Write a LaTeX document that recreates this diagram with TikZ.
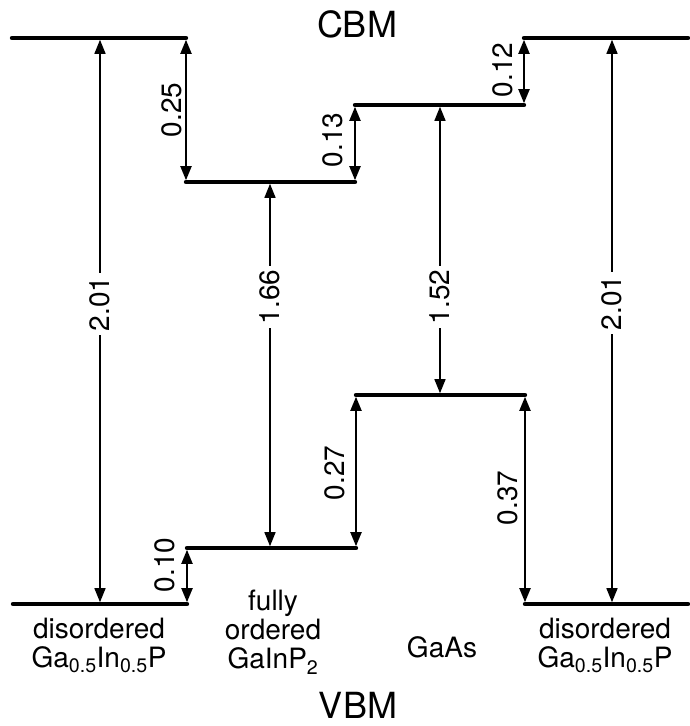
\documentclass[tikz,border=0pt]{standalone}
\usepackage{fontspec}
\setmainfont{TeX Gyre Heros}
\usetikzlibrary{arrows.meta,positioning,calc}
\tikzset{
  bandedge/.style={line width=4.4pt, line cap=round},
  % offsets between neighbouring layers and gaps of each layer
  stepdim/.style={{Triangle[length=14pt,width=11pt]}-{Triangle[length=14pt,width=11pt]},
                line width=2pt, shorten <=1.8pt, shorten >=1.8pt},
  gapdim/.style={{Triangle[length=14pt,width=11pt]}-{Triangle[length=14pt,width=11pt]},
                line width=1.4pt, shorten <=1.8pt, shorten >=1.8pt},
  steplabel/.style={rotate=90, anchor=south, inner sep=0pt, font=\fontsize{28}{29}\selectfont},
  gaplabel/.style={rotate=90, fill=white, inner xsep=4pt, inner ysep=1pt, font=\fontsize{28}{29}\selectfont},
  matlabel/.style={align=center, inner sep=0pt, font=\fontsize{28}{29}\selectfont},
  edgelabel/.style={anchor=base, inner sep=0pt, font=\fontsize{36}{40}\selectfont},
}

\begin{document}
\begin{tikzpicture}[x=1pt, y=-1pt]
  \useasboundingbox (0,0) rectangle (689,726);

  % --- conduction band edges ------------------------------------------------
  \coordinate (cbLw) at (12,38);   \coordinate (cbLe) at (186,38);
  \coordinate (cbOw) at (186,182); \coordinate (cbOe) at (355,182);
  \coordinate (cbGw) at (355,105); \coordinate (cbGe) at (524,105);
  \coordinate (cbRw) at (524,38);  \coordinate (cbRe) at (688,38);

  % --- valence band edges ---------------------------------------------------
  \coordinate (vbLw) at (13,604);  \coordinate (vbLe) at (187,604);
  \coordinate (vbOw) at (187,548); \coordinate (vbOe) at (356,548);
  \coordinate (vbGw) at (356,395); \coordinate (vbGe) at (525,395);
  \coordinate (vbRw) at (525,604); \coordinate (vbRe) at (688,604);

  \draw[bandedge] (cbLw) -- (cbLe);
  \draw[bandedge] (cbOw) -- (cbOe);
  \draw[bandedge] (cbGw) -- (cbGe);
  \draw[bandedge] (cbRw) -- (cbRe);
  \draw[bandedge] (vbLw) -- (vbLe);
  \draw[bandedge] (vbOw) -- (vbOe);
  \draw[bandedge] (vbGw) -- (vbGe);
  \draw[bandedge] (vbRw) -- (vbRe);

  % --- band offsets ---------------------------------------------------------
  \draw[stepdim] (cbLe) -- (cbOw);
  \draw[stepdim] (cbOe) -- (cbGw);
  \draw[stepdim] (cbGe) -- (cbRw);
  \draw[stepdim] (vbLe) -- (vbOw);
  \draw[stepdim] (vbOe) -- (vbGw);
  \draw[stepdim] (vbGe) -- (vbRw);

  \node[steplabel] (off025) at (182,110) {0.25};
  \node[steplabel] (off013) at (343,140) {0.13};
  \node[steplabel] (off012) at (513,70)  {0.12};
  \node[steplabel] (off010) at (175,565) {0.10};
  \node[steplabel] (off027) at (345,473) {0.27};
  \node[steplabel] (off037) at (518,498) {0.37};

  % --- band gaps ------------------------------------------------------------
  \coordinate (colL) at (100,0);
  \coordinate (colO) at (270,0);
  \coordinate (colG) at (440,0);
  \coordinate (colR) at (612,0);

  \draw[gapdim] (colL |- cbLw) -- node[gaplabel,pos=0.47]{2.01} (colL |- vbLw);
  \draw[gapdim] (colO |- cbOw) -- node[gaplabel,pos=0.314]{1.66} (colO |- vbOw);
  \draw[gapdim] (colG |- cbGw) -- node[gaplabel,pos=0.662]{1.52} (colG |- vbGw);
  \draw[gapdim] (colR |- cbRw) -- node[gaplabel,pos=0.468]{2.01} (colR |- vbRw);

  % --- materials ------------------------------------------------------------
  \node[matlabel, anchor=north] (matL) at (99,618)  {disordered\\Ga\textsubscript{0.5}In\textsubscript{0.5}P};
  \node[matlabel, anchor=north] (matO) at (273,590) {fully\\ordered\\GaInP\textsubscript{2}};
  \node[matlabel, anchor=base]  (matG) at (442,657) {GaAs};
  \node[matlabel, anchor=north] (matR) at (605,618) {disordered\\Ga\textsubscript{0.5}In\textsubscript{0.5}P};

  \node[edgelabel] (cbm) at (357,37)  {CBM};
  \node[edgelabel] (vbm) at (358,718) {VBM};

\end{tikzpicture}
\end{document}
